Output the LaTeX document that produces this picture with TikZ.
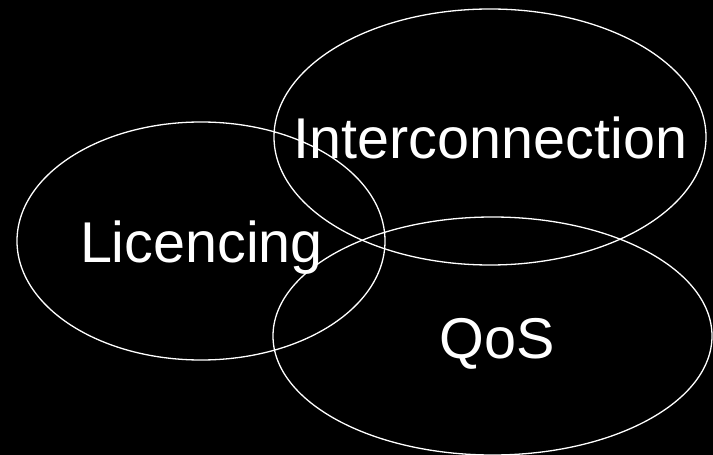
\documentclass[tikz,border=0pt]{standalone}
\usepackage{fontspec}
\setmainfont{Liberation Sans}
\begin{document}
\begin{tikzpicture}[x=1bp,y=-1bp,
  ring/.style={draw=white,line width=1.3bp},
  lbl/.style={text=white,inner sep=0pt,anchor=base,font=\fontsize{57.5bp}{60bp}\selectfont}]
\fill[black] (0,0) rectangle (713,455);
\useasboundingbox (0,0) rectangle (713,455);
\coordinate (ci) at (490,137);
\coordinate (cl) at (201,241);
\coordinate (cq) at (492.5,336);
\draw[ring] (ci) ellipse [x radius=216bp, y radius=128bp];
\draw[ring] (cl) ellipse [x radius=184bp, y radius=119bp];
\draw[ring] (cq) ellipse [x radius=219.5bp, y radius=119bp];
\node[lbl] (inter) at (490.5,159) {Interconnection};
\node[lbl] (lic) at (201.5,263) {Licencing};
\node[lbl] (qos) at (497,358) {QoS};
\end{tikzpicture}
\end{document}
